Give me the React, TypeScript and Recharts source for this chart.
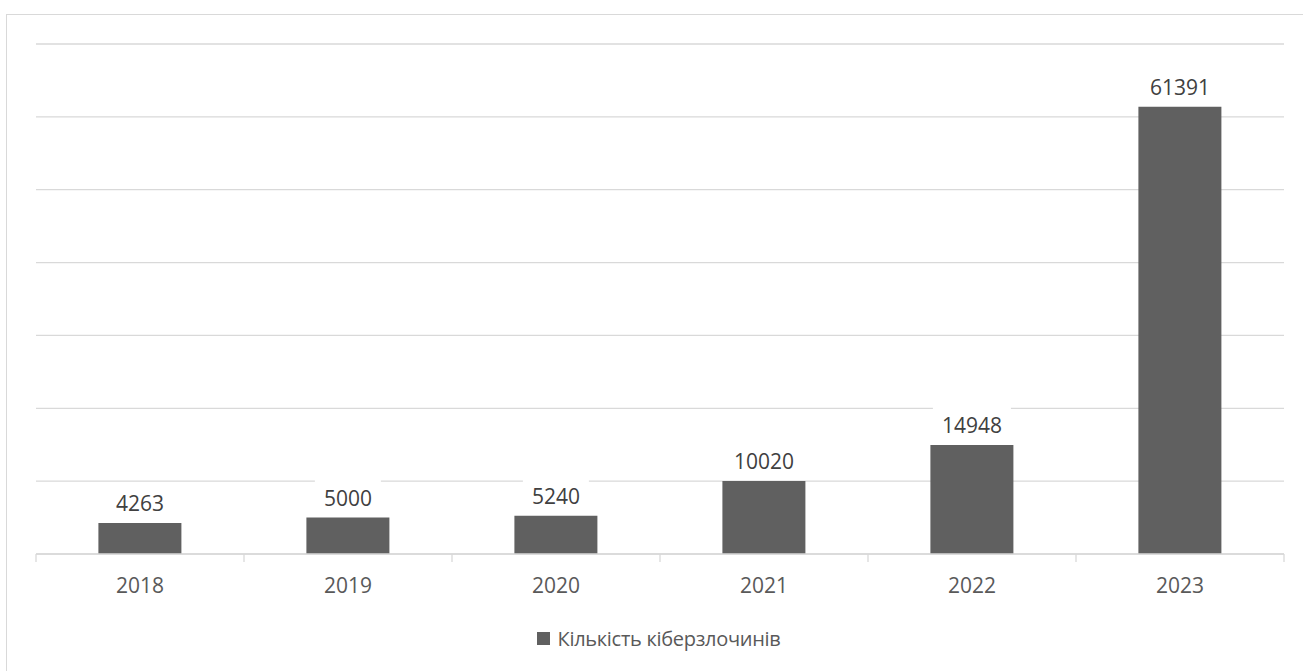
import { Bar, BarChart, CartesianGrid, LabelList, XAxis, YAxis } from "recharts";

const years = ["2018", "2019", "2020", "2021", "2022", "2023"];
const crimes = [4263, 5000, 5240, 10020, 14948, 61391];
const yTicks = [0, 10000, 20000, 30000, 40000, 50000, 60000, 70000];
const seriesName = "Кількість кіберзлочинів";

const data = years.map((year, i) => ({ year, crimes: crimes[i] }));

const W = 1303;
const H = 671;
const MARGIN = { top: 44, right: 19, left: 36, bottom: 0 };
const BAND = (W - MARGIN.left - MARGIN.right) / years.length;
const FONT = "'Open Sans', 'Noto Sans', sans-serif";
const GRID = "#d9d9d9";
const BAR = "#606060";

// category labels, plus Excel-style tick marks between categories
function YearTick(props: any) {
  const { x, y, payload, index } = props;
  const left = x - BAND / 2;
  const right = x + BAND / 2;
  return (
    <g>
      <line x1={left} x2={left} y1={y} y2={y + 8} stroke={GRID} strokeWidth={1.3} />
      {index === years.length - 1 && (
        <line x1={right} x2={right} y1={y} y2={y + 8} stroke={GRID} strokeWidth={1.3} />
      )}
      <text
        x={x}
        y={y + 31}
        textAnchor="middle"
        dominantBaseline="central"
        fontSize={21}
        fontFamily={FONT}
        fill="#595959"
      >
        {payload.value}
      </text>
    </g>
  );
}

// value label on a white box, so it cuts through gridlines
function ValueLabel(props: any) {
  const { x, y, width, value } = props;
  const cx = x + width / 2;
  const cy = y - 20;
  const text = String(value);
  const boxW = text.length * 12 + 18;
  return (
    <g>
      <rect x={cx - boxW / 2} y={cy - 19} width={boxW} height={38} fill="#ffffff" />
      <text
        x={cx}
        y={cy}
        textAnchor="middle"
        dominantBaseline="central"
        fontSize={21}
        fontFamily={FONT}
        fill="#404040"
      >
        {text}
      </text>
    </g>
  );
}

export default function App() {
  return (
    <div
      style={{
        position: "absolute",
        left: 0,
        top: 0,
        width: W,
        height: H,
        overflow: "hidden",
        background: "#ffffff",
        fontFamily: FONT,
      }}
    >
      <div
        style={{
          position: "absolute",
          left: 6,
          top: 14,
          width: W + 20,
          height: H + 20,
          borderLeft: `1.5px solid ${GRID}`,
          borderTop: `1.5px solid ${GRID}`,
        }}
      />
      <div style={{ position: "absolute", left: 0, top: 0 }}>
        <BarChart width={W} height={610} data={data} margin={MARGIN} barCategoryGap="30%">
          <CartesianGrid vertical={false} stroke={GRID} strokeWidth={1.3} />
          <YAxis hide domain={[0, 70000]} ticks={yTicks} width={0} />
          <XAxis
            dataKey="year"
            height={56}
            axisLine={{ stroke: GRID, strokeWidth: 1.3 }}
            tickLine={false}
            tickSize={0}
            tickMargin={0}
            tick={<YearTick />}
            interval={0}
          />
          <Bar dataKey="crimes" name={seriesName} fill={BAR} isAnimationActive={false}>
            <LabelList dataKey="crimes" content={<ValueLabel />} />
          </Bar>
        </BarChart>
      </div>
      <div
        style={{
          position: "absolute",
          left: 0,
          width: W,
          top: 624,
          height: 28,
          display: "flex",
          alignItems: "center",
          justifyContent: "center",
          gap: 8,
          paddingLeft: 14,
          boxSizing: "border-box",
          fontSize: 20,
          color: "#595959",
        }}
      >
        <span style={{ width: 13, height: 13, background: BAR, display: "inline-block" }} />
        <span style={{ letterSpacing: -0.3 }}>{seriesName}</span>
      </div>
    </div>
  );
}
